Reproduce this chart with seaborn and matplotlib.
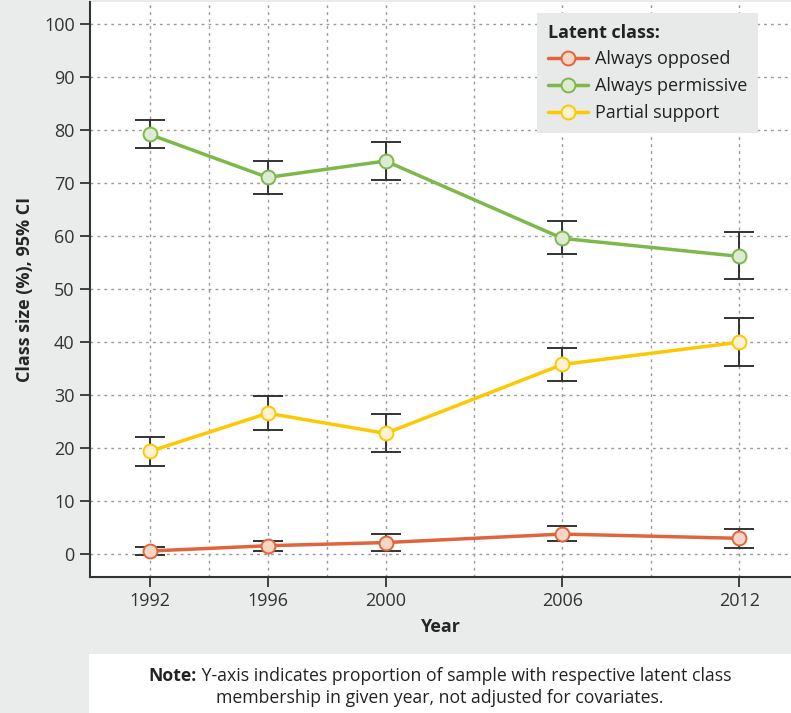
import pandas as pd
import matplotlib.pyplot as plt
import matplotlib.patches as mpatches
from matplotlib.ticker import FixedLocator
import seaborn as sns

# Datos
years = [1992, 1996, 2000, 2006, 2012]
classes = ['Always opposed', 'Always permissive', 'Partial support']

opposed = [0.6, 1.6, 2.2, 3.8, 3.0]
opposed_lo = [-0.2, 0.7, 0.7, 2.5, 1.1]
opposed_hi = [1.4, 2.5, 3.8, 5.3, 4.8]

permissive = [79.2, 71.1, 74.2, 59.6, 56.2]
permissive_lo = [76.6, 67.9, 70.6, 56.6, 51.9]
permissive_hi = [81.9, 74.2, 77.7, 62.8, 60.8]

partial = [19.4, 26.6, 22.8, 35.8, 40.0]
partial_lo = [16.7, 23.4, 19.3, 32.6, 35.5]
partial_hi = [22.2, 29.8, 26.4, 38.9, 44.5]

line_colors = ['#e0653d', '#7cb84a', '#fcc800']
fill_colors = ['#f8d6c5', '#dcebd2', '#fff2d2']

df = pd.DataFrame({
    'Year': years * 3,
    'Size': opposed + permissive + partial,
    'Low': opposed_lo + permissive_lo + partial_lo,
    'High': opposed_hi + permissive_hi + partial_hi,
    'Class': [c for c in classes for _ in years],
})

bg = '#eaebeb'
sns.set_style('white')
plt.rcParams['font.family'] = ['Open Sans', 'DejaVu Sans']
plt.rcParams['text.color'] = '#222222'

fig = plt.figure(figsize=(7.91, 7.13), dpi=100, facecolor=bg)
ax = fig.add_axes([90 / 791, 1 - 577 / 713, 1 - 90 / 791, (577 - 2) / 713])

# rectangulo blanco para la nota
fig.patches.append(mpatches.Rectangle((89 / 791, 0), 1 - 89 / 791, 59 / 713,
                                      transform=fig.transFigure, facecolor='white',
                                      edgecolor='none', zorder=0))

# barras de error
for cls in classes:
    sub = df[df['Class'] == cls]
    ax.errorbar(sub['Year'], sub['Size'],
                yerr=[sub['Size'] - sub['Low'], sub['High'] - sub['Size']],
                fmt='none', ecolor='#333333', elinewidth=1.4, capsize=11,
                capthick=1.4, zorder=3)

sns.lineplot(data=df, x='Year', y='Size', hue='Class', palette=line_colors,
             linewidth=2.5, ax=ax, zorder=4, legend=False)
for i, cls in enumerate(classes):
    sub = df[df['Class'] == cls]
    ax.plot(sub['Year'], sub['Size'], 'o', ms=10, mfc=fill_colors[i],
            mec=line_colors[i], mew=1.4, zorder=5)

ax.set_xlim(1989.97, 2013.76)
ax.set_ylim(-4.3, 104.2)
ax.set_xticks(years)
ax.xaxis.set_minor_locator(FixedLocator([1994, 1998, 2003, 2009]))
ax.set_yticks(range(0, 101, 10))
ax.grid(True, which='both', color='#999999', linestyle=(0, (2, 3)), linewidth=1.0)
ax.set_axisbelow(True)
ax.tick_params(axis='both', which='major', direction='out', length=7, width=1.3,
               color='#333333', labelsize=13, labelcolor='#333333', pad=4)
ax.tick_params(axis='x', which='minor', length=0)
ax.tick_params(axis='x', which='major', bottom=True)
ax.tick_params(axis='y', which='major', left=True)
for s in ['top', 'right']:
    ax.spines[s].set_visible(False)
for s in ['left', 'bottom']:
    ax.spines[s].set_color('#333333')
    ax.spines[s].set_linewidth(1.5)

ax.set_xlabel('Year', fontsize=13, fontweight='bold')
ax.set_ylabel('Class size (%), 95% CI', fontsize=13, fontweight='bold')
ax.xaxis.set_label_coords(0.5, -0.071)
ax.yaxis.set_label_coords(-0.08, 0.5)

handles = [plt.Line2D([], [], color=line_colors[i], lw=2.5, marker='o', ms=10,
                      mfc=fill_colors[i], mec=line_colors[i], mew=1.4)
           for i in range(3)]
leg = ax.legend(handles, classes, title='Latent class:', loc='upper right',
                bbox_to_anchor=((758 - 90) / 701, (577 - 13) / 575),
                borderaxespad=0, frameon=True, fancybox=False,
                facecolor='#e8e9e9', edgecolor='none', framealpha=1,
                fontsize=13, title_fontsize=13, handlelength=2.2,
                handletextpad=0.4, labelspacing=0.48, borderpad=0.6)
leg.get_title().set_fontweight('bold')
leg._legend_box.align = 'left'

# nota al pie, "Note:" en negrita
t1 = fig.text(0, 1 - 676 / 713, 'Note:', fontsize=12.7,
              fontweight='bold', ha='left', va='center')
t2 = fig.text(0, 1 - 676 / 713, ' Y-axis indicates proportion of sample with respective latent class',
              fontsize=12.7, ha='left', va='center')
fig.text(440 / 791, 1 - 698 / 713, 'membership in given year, not adjusted for covariates.',
         fontsize=12.7, ha='center', va='center')
fig.canvas.draw()
r = fig.canvas.get_renderer()
w1 = t1.get_window_extent(r).width
w2 = t2.get_window_extent(r).width
x0 = 440 - (w1 + w2) / 2
t1.set_x(x0 / 791)
t2.set_x((x0 + w1) / 791)

fig.savefig('out.png', dpi=100, facecolor=bg)
plt.close()
